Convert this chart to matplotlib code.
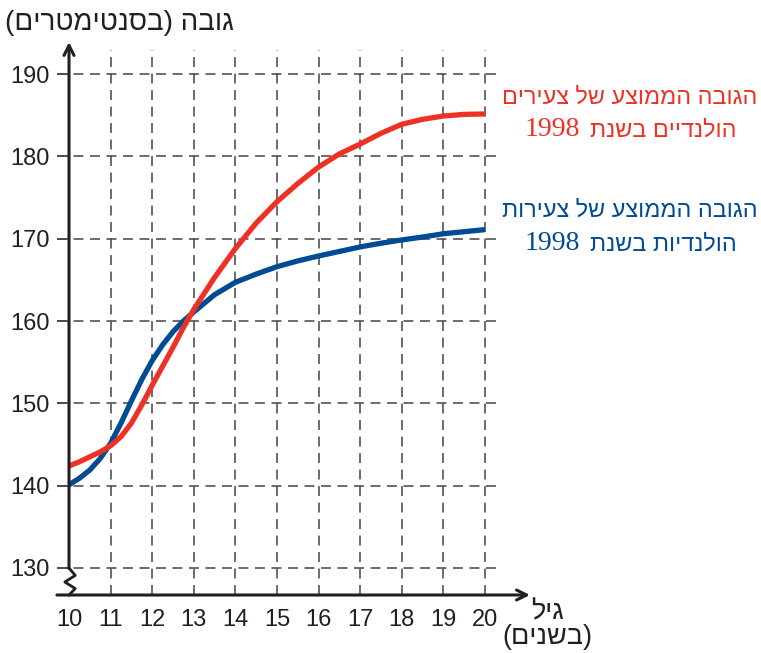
import re
import matplotlib
matplotlib.use("Agg")
import matplotlib.pyplot as plt

plt.rcParams['font.family'] = ['Liberation Sans', 'DejaVu Sans']

# data
ages = [10, 10.25, 10.5, 10.75, 11, 11.25, 11.5, 11.75, 12, 12.25, 12.5, 12.75, 13,
        13.5, 14, 14.5, 15, 15.5, 16, 16.5, 17, 17.5, 18, 18.5, 19, 19.5, 20]
height_boys = [142.4, 142.9, 143.5, 144.1, 144.85, 145.95, 147.6, 149.8, 152.2, 154.5, 156.8, 159.2, 161.4,
               165.3, 168.8, 171.9, 174.5, 176.7, 178.7, 180.3, 181.5, 182.8, 183.9, 184.5, 184.9, 185.1, 185.15]
height_girls = [140.1, 140.9, 141.9, 143.3, 145.15, 147.6, 150.3, 152.9, 155.2, 157.1, 158.7, 160.0, 161.1,
                163.2, 164.7, 165.7, 166.6, 167.3, 167.9, 168.45, 169.0, 169.45, 169.85, 170.2, 170.6, 170.85, 171.1]

x_ticks = list(range(10, 21))
y_ticks = [130, 140, 150, 160, 170, 180, 190]

y_title = "גובה (בסנטימטרים)"
x_title_1 = "גיל"
x_title_2 = "(בשנים)"
boys_line1 = "הגובה הממוצע של צעירים"
boys_line2 = "הולנדיים בשנת"
girls_line1 = "הגובה הממוצע של צעירות"
girls_line2 = "הולנדיות בשנת"
year = "1998"

RED = '#ee3124'
BLUE = '#004b93'
INK = '#231f20'
GRID = '#444444'


def vis(s):
    # matplotlib has no bidi support: put Hebrew into visual order
    s = s[::-1]
    s = re.sub(r'\d+', lambda m: m.group()[::-1], s)
    return s.translate(str.maketrans('()', ')('))


W, H = 761, 653
fig = plt.figure(figsize=(W / 100, H / 100), dpi=100)
ax = fig.add_axes([69 / W, 1 - 595 / H, 416 / W, 553 / H])
ax.set_xlim(10, 20)
ax.set_ylim(126.72, 193.89)
for s in ax.spines.values():
    s.set_visible(False)

# dashed grid
dash = (0, (6.5, 4.3))
ax.hlines(y_ticks, 9.71, 20.29, colors=GRID, lw=1.1, linestyle=dash, clip_on=False, zorder=1)
ax.vlines(x_ticks[1:], 126.72, 192.9, colors=GRID, lw=1.1, linestyle=dash, clip_on=False, zorder=1)
ax.hlines(y_ticks, 9.71, 10, colors=GRID, lw=1.1, clip_on=False, zorder=1)

# curves
ax.plot(ages, height_girls, color=BLUE, lw=3.8, solid_capstyle='butt',
        solid_joinstyle='round', zorder=3, clip_on=False)
ax.plot(ages, height_boys, color=RED, lw=3.8, solid_capstyle='butt',
        solid_joinstyle='round', zorder=4, clip_on=False)

# axes with arrows and the break
ax.annotate('', xy=(10, 193.89), xytext=(10, 129.95),
            arrowprops=dict(arrowstyle='->', lw=2.2, color=INK, mutation_scale=18,
                            shrinkA=0, shrinkB=0), annotation_clip=False, zorder=5)
ax.annotate('', xy=(21.08, 126.72), xytext=(9.71, 126.72),
            arrowprops=dict(arrowstyle='->', lw=2.2, color=INK, mutation_scale=18,
                            shrinkA=0, shrinkB=0), annotation_clip=False, zorder=5)
ax.plot([10, 10.15, 9.9, 10.15, 10], [130, 129.1, 128.3, 127.5, 126.72],
        color=INK, lw=2.0, clip_on=False, zorder=5)

ax.set_xticks(x_ticks)
ax.set_yticks(y_ticks)
ax.tick_params(length=0, labelsize=17, colors=INK)
ax.tick_params(axis='y', pad=13.7)
ax.tick_params(axis='x', pad=10)

# titles
fig.text(5 / W, 1 - 23 / H, vis(y_title), fontsize=20, color=INK, ha='left', va='center')
fig.text(547 / W, 1 - 612 / H, vis(x_title_1), fontsize=19.5, color=INK, ha='center', va='center')
fig.text(547 / W, 1 - 637 / H, vis(x_title_2), fontsize=19.5, color=INK, ha='center', va='center')

# series labels
fig.text(630 / W, 1 - 97 / H, vis(boys_line1), fontsize=16.8, color=RED, ha='center', va='center')
fig.text(737 / W, 1 - 130 / H, vis(boys_line2), fontsize=16.8, color=RED, ha='right', va='center')
fig.text(525 / W, 1 - 130 / H, year, fontsize=20, color=RED, ha='left', va='center',
         family='Liberation Serif')
fig.text(630 / W, 1 - 210 / H, vis(girls_line1), fontsize=16.8, color=BLUE, ha='center', va='center')
fig.text(737 / W, 1 - 244 / H, vis(girls_line2), fontsize=16.8, color=BLUE, ha='right', va='center')
fig.text(525 / W, 1 - 244 / H, year, fontsize=20, color=BLUE, ha='left', va='center',
         family='Liberation Serif')

fig.savefig('out.png', dpi=100)
